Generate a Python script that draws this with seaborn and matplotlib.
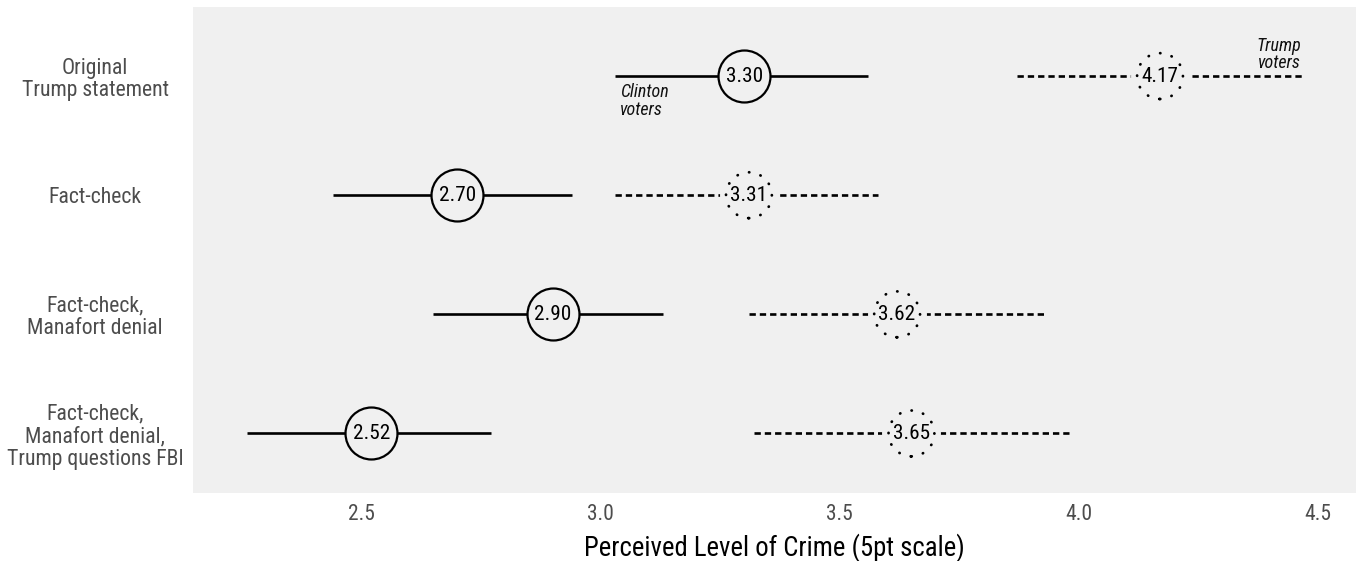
import numpy as np
import pandas as pd
import matplotlib
matplotlib.use("Agg")
import matplotlib.pyplot as plt
import seaborn as sns
from matplotlib import font_manager

# 数据
CONDITIONS = ["Original\nTrump statement", "Fact-check",
              "Fact-check,\nManafort denial",
              "Fact-check,\nManafort denial,\nTrump questions FBI"]
CLINTON_MEAN = [3.30, 2.70, 2.90, 2.52]
CLINTON_LOW = [3.03, 2.44, 2.65, 2.26]
CLINTON_HIGH = [3.56, 2.94, 3.13, 2.77]
TRUMP_MEAN = [4.17, 3.31, 3.62, 3.65]
TRUMP_LOW = [3.87, 3.03, 3.31, 3.32]
TRUMP_HIGH = [4.47, 3.58, 3.93, 3.98]
X_TICKS = [2.5, 3.0, 3.5, 4.0, 4.5]

BG = "#f0f0f0"

sns.set_theme(style="white")
installed = {f.name for f in font_manager.fontManager.ttflist}
families = [f for f in ["Roboto Condensed", "Liberation Sans Narrow", "Roboto", "DejaVu Sans"] if f in installed]
plt.rcParams["font.family"] = families

df = pd.DataFrame({
    "cond": CONDITIONS,
    "y": np.arange(len(CONDITIONS)),
    "c_mean": CLINTON_MEAN, "c_lo": CLINTON_LOW, "c_hi": CLINTON_HIGH,
    "t_mean": TRUMP_MEAN, "t_lo": TRUMP_LOW, "t_hi": TRUMP_HIGH,
})

fig = plt.figure(figsize=(13.58, 5.61), dpi=100)
ax = fig.add_axes([193 / 1358, 68 / 561, (1356 - 193) / 1358, (493 - 7) / 561])
ax.set_facecolor(BG)

# 区间线
ax.hlines(df["y"], df["c_lo"], df["c_hi"], color="black", lw=1.9, zorder=1)
ax.hlines(df["y"], df["t_lo"], df["t_hi"], color="black", lw=1.9,
          linestyles=(0, (2.4, 1.5)), zorder=1)

# 圆点
sns.scatterplot(data=df, x="c_mean", y="y", s=1400, color=BG, edgecolor="black",
                linewidth=1.6, zorder=3, ax=ax, legend=False)
sns.scatterplot(data=df, x="t_mean", y="y", s=1800, color=BG, linewidth=0,
                zorder=2, ax=ax, legend=False)
sns.scatterplot(data=df, x="t_mean", y="y", s=1090, color=BG, edgecolor="black",
                linewidth=2.0, linestyle=(0, (0.1, 4.2)), zorder=3, ax=ax, legend=False)
ax.collections[-1].set_capstyle("round")

for _, r in df.iterrows():
    ax.text(r["c_mean"], r["y"], f"{r['c_mean']:.2f}", ha="center", va="center",
            fontsize=15.3, color="black", zorder=4)
    ax.text(r["t_mean"], r["y"], f"{r['t_mean']:.2f}", ha="center", va="center",
            fontsize=15.3, color="black", zorder=4)

ax.text(CLINTON_LOW[0] + 0.01, 0.21, "Clinton\nvoters", style="italic", fontsize=13,
        ha="left", va="center", linespacing=0.95, color="#111111")
ax.text(TRUMP_HIGH[0] - 0.005, -0.18, "Trump\nvoters", style="italic", fontsize=13,
        ha="right", va="center", linespacing=0.95, color="#111111")

ax.set_xlim(2.147, 4.58)
ax.set_ylim(3.5, -0.58)
ax.set_xticks(X_TICKS)
ax.set_xticklabels([f"{t:.1f}" for t in X_TICKS], fontsize=15.5, color="#4d4d4d")
ax.set_yticks(df["y"])
ax.set_yticklabels(CONDITIONS, fontsize=15.7, color="#4d4d4d", ha="center", linespacing=1.1)
ax.tick_params(axis="y", pad=70.5, length=0)
ax.tick_params(axis="x", pad=8, length=0)
ax.set_xlabel("Perceived Level of Crime (5pt scale)", fontsize=19.3, color="black", labelpad=6)
ax.set_ylabel("")
sns.despine(ax=ax, left=True, bottom=True, top=True, right=True)

fig.savefig("out.png", dpi=100, facecolor="white")
